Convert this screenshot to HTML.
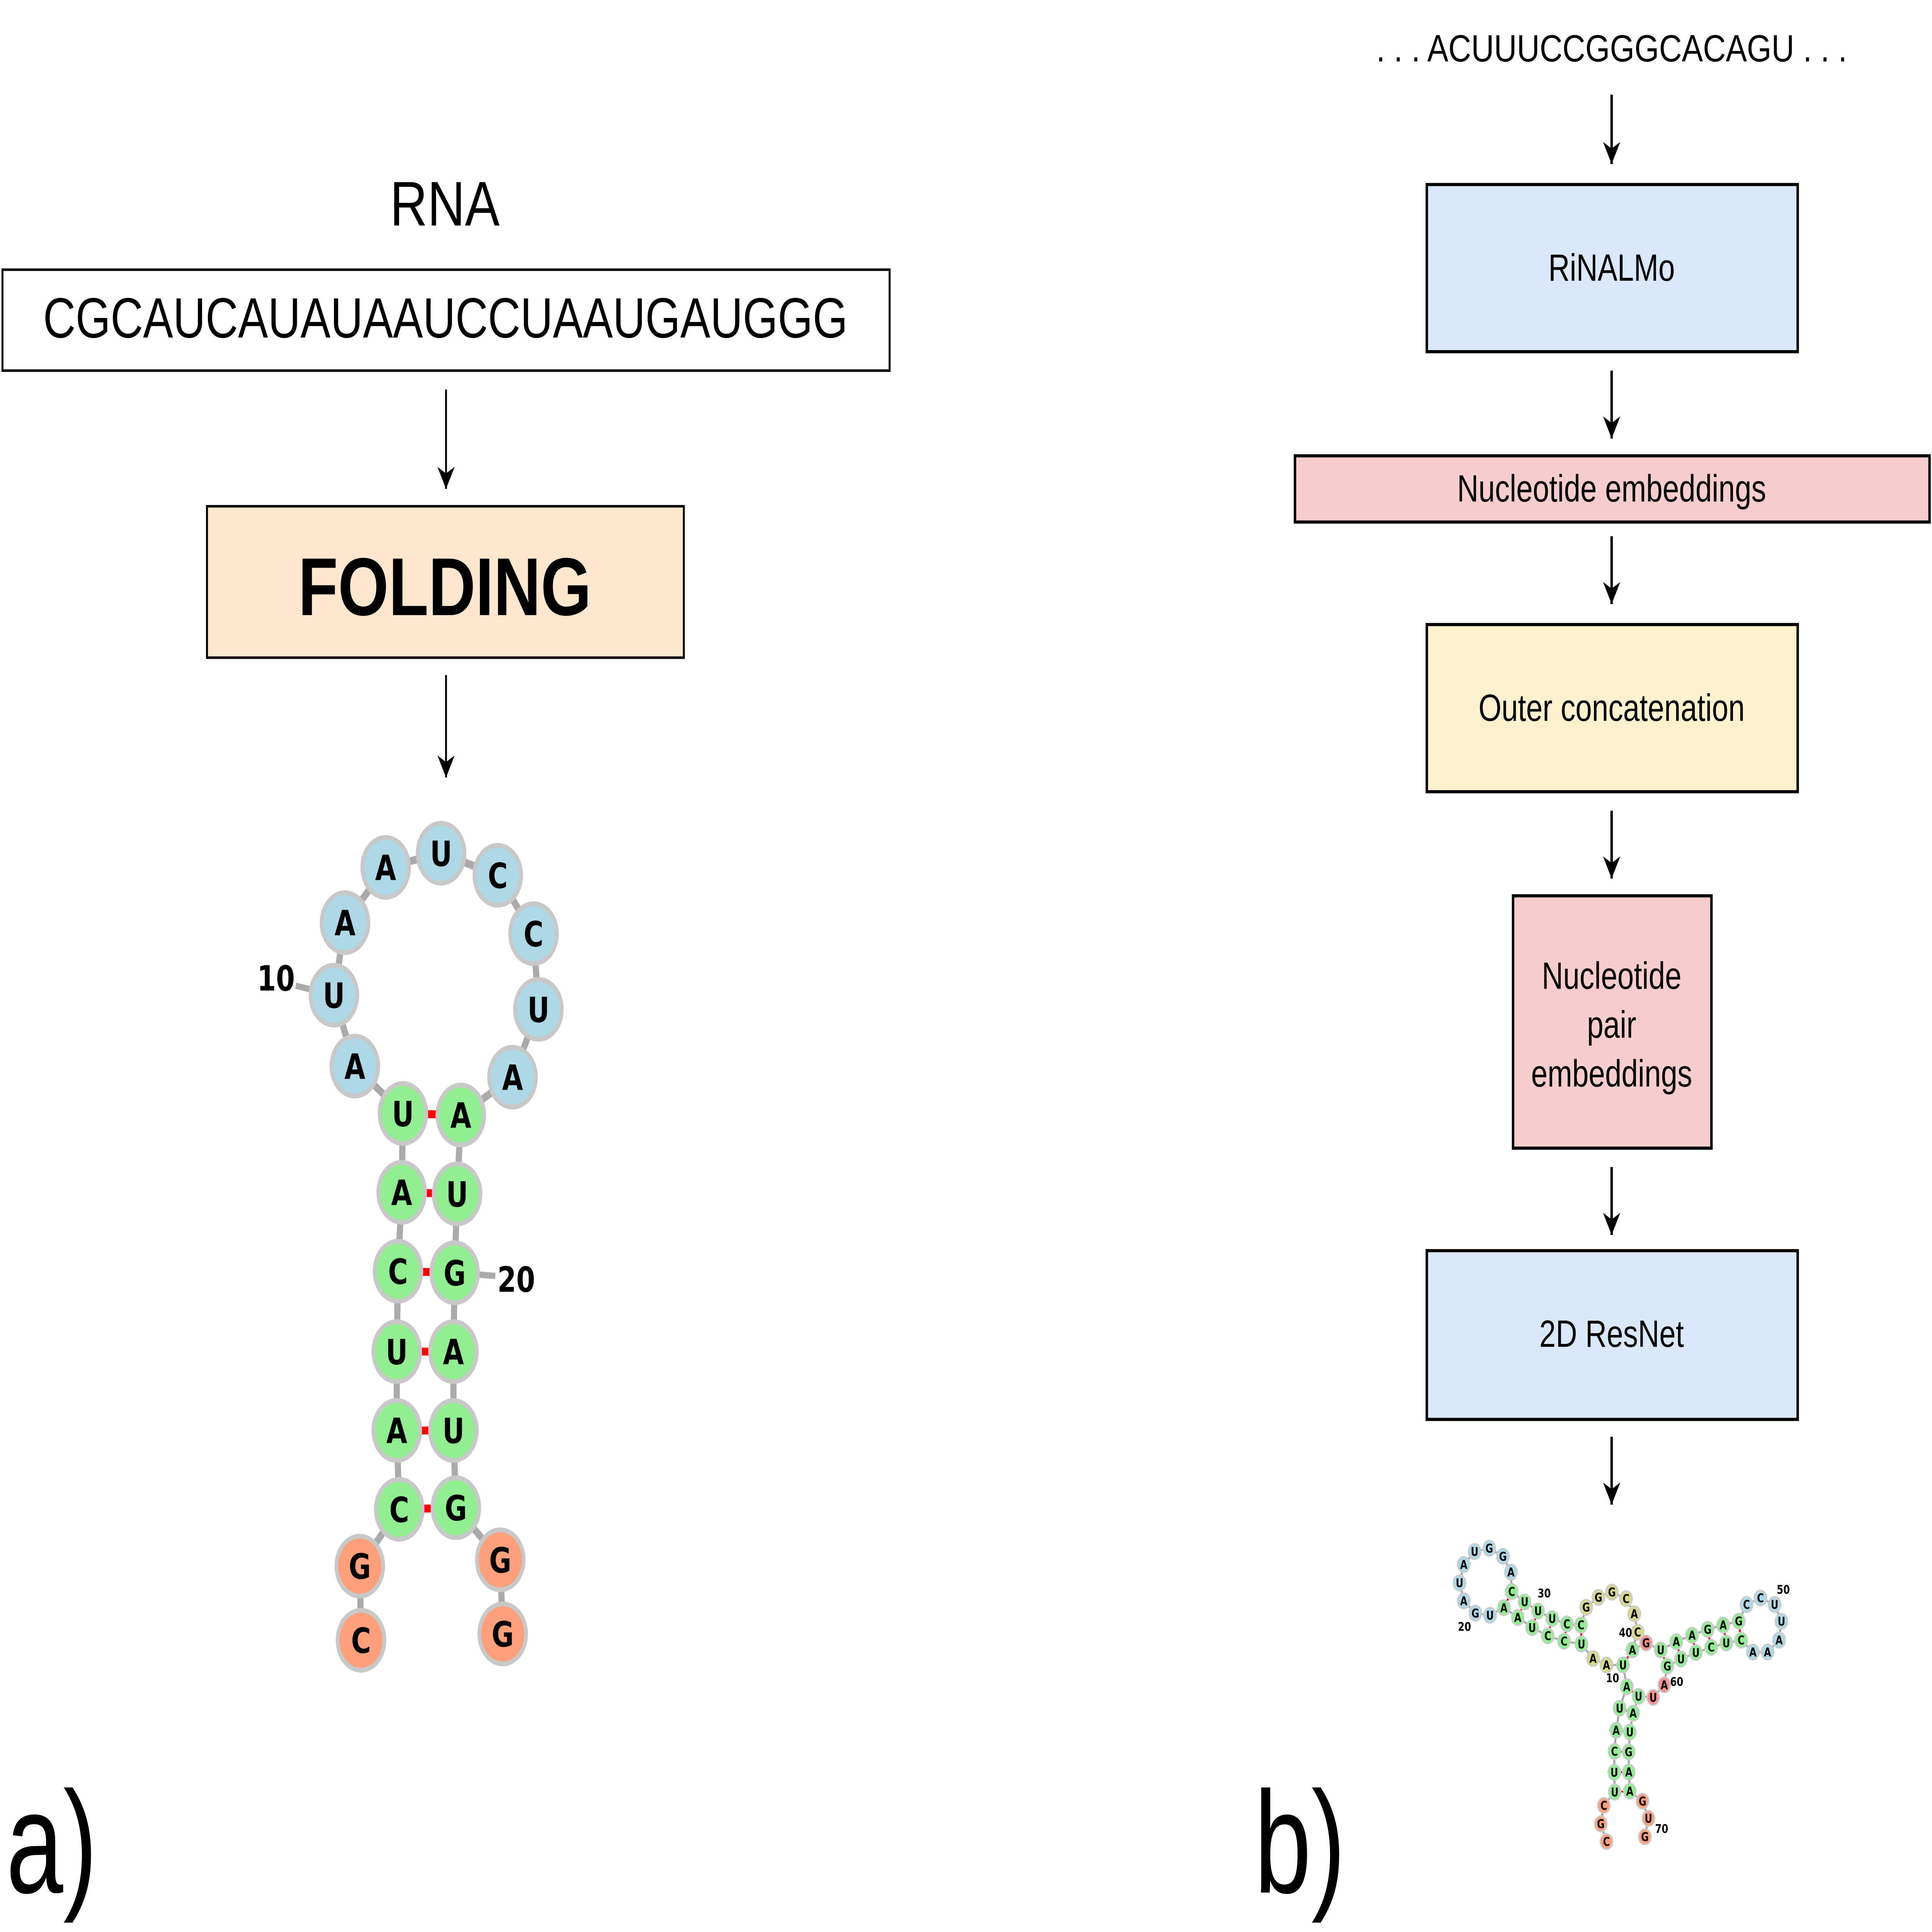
<!DOCTYPE html>
<html><head><meta charset="utf-8"><style>
html,body{margin:0;padding:0;background:#fff;width:100vw;height:100vh;overflow:hidden}
#wrap{position:fixed;left:0;top:0;width:100vw;height:100vh;overflow:hidden}
#wrap svg{display:block;width:100vw;height:100vh}
</style></head>
<body>
<div id="wrap">
<svg xmlns="http://www.w3.org/2000/svg" width="100%" height="100%" viewBox="0 0 1568 1225" preserveAspectRatio="none">
<defs>
<marker id="ah" viewBox="0 0 10 10" refX="10" refY="5" markerWidth="14" markerHeight="14" markerUnits="userSpaceOnUse" orient="auto">
<path d="M0,0 L10,5 L0,10 L3,5 z" fill="#000"/>
</marker>
</defs>
<rect width="1568" height="1225" fill="#fff"/>
<g font-family="Liberation Sans, sans-serif" fill="#000">
<text x="361" y="143" font-size="40" text-anchor="middle" textLength="89" lengthAdjust="spacingAndGlyphs">RNA</text>
<rect x="2" y="171" width="720" height="64" fill="#fff" stroke="#000" stroke-width="1.6"/>
<text x="361.5" y="214" font-size="36" text-anchor="middle" textLength="653" lengthAdjust="spacingAndGlyphs">CGCAUCAUAUAAUCCUAAUGAUGGG</text>
<line x1="362" y1="247" x2="362" y2="310" stroke="#000" stroke-width="1.5" marker-end="url(#ah)"/>
<rect x="168" y="321" width="387" height="96" fill="#ffe6cc" stroke="#000" stroke-width="1.6"/>
<text x="361" y="390" font-size="52" font-weight="bold" text-anchor="middle" textLength="238" lengthAdjust="spacingAndGlyphs">FOLDING</text>
<line x1="362" y1="428" x2="362" y2="493" stroke="#000" stroke-width="1.5" marker-end="url(#ah)"/>
<text x="5" y="1200" font-size="92" textLength="74" lengthAdjust="spacingAndGlyphs">a)</text>
<text x="1018" y="1200" font-size="92" textLength="74" lengthAdjust="spacingAndGlyphs">b)</text>

<text x="1308" y="39" font-size="24" text-anchor="middle" textLength="382" lengthAdjust="spacingAndGlyphs">. . . ACUUUCCGGGCACAGU . . .</text>
<line x1="1308" y1="60" x2="1308" y2="104" stroke="#000" stroke-width="2" marker-end="url(#ah)"/>
<rect x="1158" y="117" width="301" height="106" fill="#dae8fc" stroke="#000" stroke-width="2"/>
<text x="1308" y="178" font-size="24" text-anchor="middle">RiNALMo</text>
<line x1="1308" y1="235" x2="1308" y2="278" stroke="#000" stroke-width="2" marker-end="url(#ah)"/>
<rect x="1051" y="289" width="515" height="42" fill="#f8cecc" stroke="#000" stroke-width="2"/>
<text x="1308" y="318" font-size="24" text-anchor="middle">Nucleotide embeddings</text>
<line x1="1308" y1="340" x2="1308" y2="383" stroke="#000" stroke-width="2" marker-end="url(#ah)"/>
<rect x="1158" y="396" width="301" height="106" fill="#fff2cc" stroke="#000" stroke-width="2"/>
<text x="1308" y="457" font-size="24" text-anchor="middle">Outer concatenation</text>
<line x1="1308" y1="514" x2="1308" y2="557" stroke="#000" stroke-width="2" marker-end="url(#ah)"/>
<rect x="1228" y="568" width="161" height="160" fill="#f8cecc" stroke="#000" stroke-width="2"/>
<text x="1308" y="627" font-size="24" text-anchor="middle">Nucleotide</text>
<text x="1308" y="658" font-size="24" text-anchor="middle">pair</text>
<text x="1308" y="689" font-size="24" text-anchor="middle">embeddings</text>
<line x1="1308" y1="740" x2="1308" y2="783" stroke="#000" stroke-width="2" marker-end="url(#ah)"/>
<rect x="1158" y="793" width="301" height="107" fill="#dae8fc" stroke="#000" stroke-width="2"/>
<text x="1308" y="854" font-size="24" text-anchor="middle">2D ResNet</text>
<line x1="1308" y1="911" x2="1308" y2="954" stroke="#000" stroke-width="2" marker-end="url(#ah)"/>
</g>

<g>
<polyline fill="none" stroke="#aaa" stroke-width="5" points="293,1040 292,993 324,957 322,907 322,857 323,806 326,756 327,706 288,676 271,631 280,585 313,550 358,541 404,555 433,592 437,640 416,683 374,707 371,757 369,807 368,857 368,907 370,956 406,989 408,1036"/>
<line x1="271" y1="631" x2="240" y2="625" stroke="#aaa" stroke-width="4"/>
<line x1="369" y1="807" x2="402" y2="809" stroke="#aaa" stroke-width="4"/>
<g stroke="#f00" stroke-width="5">
<line x1="327" y1="706" x2="374" y2="707"/><line x1="326" y1="756" x2="371" y2="757"/><line x1="323" y1="806" x2="369" y2="807"/>
<line x1="322" y1="857" x2="368" y2="857"/><line x1="322" y1="907" x2="368" y2="907"/><line x1="324" y1="957" x2="370" y2="956"/>
</g>
<g stroke="#c8c8c8" stroke-width="3">
<circle cx="293" cy="1040" r="19" fill="#ffa07a"/><circle cx="292" cy="993" r="19" fill="#ffa07a"/>
<circle cx="406" cy="989" r="19" fill="#ffa07a"/><circle cx="408" cy="1036" r="19" fill="#ffa07a"/>
<circle cx="324" cy="957" r="19" fill="#90ee90"/><circle cx="322" cy="907" r="19" fill="#90ee90"/><circle cx="322" cy="857" r="19" fill="#90ee90"/>
<circle cx="323" cy="806" r="19" fill="#90ee90"/><circle cx="326" cy="756" r="19" fill="#90ee90"/><circle cx="327" cy="706" r="19" fill="#90ee90"/>
<circle cx="374" cy="707" r="19" fill="#90ee90"/><circle cx="371" cy="757" r="19" fill="#90ee90"/><circle cx="369" cy="807" r="19" fill="#90ee90"/>
<circle cx="368" cy="857" r="19" fill="#90ee90"/><circle cx="368" cy="907" r="19" fill="#90ee90"/><circle cx="370" cy="956" r="19" fill="#90ee90"/>
<circle cx="288" cy="676" r="19" fill="#add8e6"/><circle cx="271" cy="631" r="19" fill="#add8e6"/><circle cx="280" cy="585" r="19" fill="#add8e6"/>
<circle cx="313" cy="550" r="19" fill="#add8e6"/><circle cx="358" cy="541" r="19" fill="#add8e6"/><circle cx="404" cy="555" r="19" fill="#add8e6"/>
<circle cx="433" cy="592" r="19" fill="#add8e6"/><circle cx="437" cy="640" r="19" fill="#add8e6"/><circle cx="416" cy="683" r="19" fill="#add8e6"/>
</g>
<g font-family="DejaVu Sans, sans-serif" font-weight="bold" font-size="22" text-anchor="middle" fill="#000">
<text x="293" y="1048">C</text><text x="292" y="1001">G</text><text x="406" y="997">G</text><text x="408" y="1044">G</text>
<text x="324" y="965">C</text><text x="322" y="915">A</text><text x="322" y="865">U</text><text x="323" y="814">C</text><text x="326" y="764">A</text><text x="327" y="714">U</text>
<text x="374" y="715">A</text><text x="371" y="765">U</text><text x="369" y="815">G</text><text x="368" y="865">A</text><text x="368" y="915">U</text><text x="370" y="964">G</text>
<text x="288" y="684">A</text><text x="271" y="639">U</text><text x="280" y="593">A</text><text x="313" y="558">A</text><text x="358" y="549">U</text>
<text x="404" y="563">C</text><text x="433" y="600">C</text><text x="437" y="648">U</text><text x="416" y="691">A</text>
<text x="224" y="628">10</text><text x="419" y="819">20</text>
</g>
</g>

<g transform="translate(1159.86,965.3) scale(0.1914,0.137)">
<polyline fill="none" stroke="#aaa" stroke-width="9" points="752,1477 728,1395 741,1310 787,1248 785,1157 786,1060 793,962 808,860 838,760 822,660 752,660 695,630 646,563 572,550 503,525 437,487 376,440 317,395 258,430 196,420 147,363 129,280 147,195 193,135 255,120 313,157 347,230 350,320 405,368 462,410 522,445 584,470 644,475 666,393 718,347 775,323 835,353 870,423 884,508 862,590 920,558 982,590 1048,552 1115,522 1181,495 1247,475 1313,457 1346,380 1405,350 1465,380 1494,458 1484,545 1435,600 1373,600 1323,545 1260,558 1196,578 1131,603 1068,632 1010,665 997,752 950,810 888,805 865,883 851,970 846,1062 847,1155 851,1244 905,1290 930,1370 915,1455"/>
<g stroke="#f00" stroke-width="8">
<line x1="787" y1="1248" x2="851" y2="1244"/><line x1="785" y1="1157" x2="847" y2="1155"/><line x1="786" y1="1060" x2="846" y2="1062"/>
<line x1="793" y1="962" x2="851" y2="970"/><line x1="808" y1="860" x2="865" y2="883"/><line x1="838" y1="760" x2="888" y2="805"/>
<line x1="822" y1="660" x2="862" y2="590"/><line x1="646" y1="563" x2="644" y2="475"/><line x1="572" y1="550" x2="584" y2="470"/>
<line x1="503" y1="525" x2="522" y2="445"/><line x1="437" y1="487" x2="462" y2="410"/><line x1="376" y1="440" x2="405" y2="368"/>
<line x1="317" y1="395" x2="350" y2="320"/><line x1="982" y1="590" x2="1010" y2="665"/><line x1="1048" y1="552" x2="1068" y2="632"/>
<line x1="1115" y1="522" x2="1131" y2="603"/><line x1="1181" y1="495" x2="1196" y2="578"/><line x1="1247" y1="475" x2="1260" y2="558"/>
<line x1="1313" y1="457" x2="1323" y2="545"/>
</g>
<g stroke="#ccc" stroke-width="6">
<ellipse cx="752" cy="1477" rx="26" ry="36" fill="#ffa07a"/><ellipse cx="728" cy="1395" rx="26" ry="36" fill="#ffa07a"/><ellipse cx="741" cy="1310" rx="26" ry="36" fill="#ffa07a"/>
<ellipse cx="787" cy="1248" rx="26" ry="36" fill="#90ee90"/><ellipse cx="785" cy="1157" rx="26" ry="36" fill="#90ee90"/><ellipse cx="786" cy="1060" rx="26" ry="36" fill="#90ee90"/>
<ellipse cx="793" cy="962" rx="26" ry="36" fill="#90ee90"/><ellipse cx="808" cy="860" rx="26" ry="36" fill="#90ee90"/><ellipse cx="838" cy="760" rx="26" ry="36" fill="#90ee90"/>
<ellipse cx="822" cy="660" rx="26" ry="36" fill="#90ee90"/><ellipse cx="752" cy="660" rx="26" ry="36" fill="#d8d88c"/><ellipse cx="695" cy="630" rx="26" ry="36" fill="#d8d88c"/>
<ellipse cx="646" cy="563" rx="26" ry="36" fill="#90ee90"/><ellipse cx="572" cy="550" rx="26" ry="36" fill="#90ee90"/><ellipse cx="503" cy="525" rx="26" ry="36" fill="#90ee90"/>
<ellipse cx="437" cy="487" rx="26" ry="36" fill="#90ee90"/><ellipse cx="376" cy="440" rx="26" ry="36" fill="#90ee90"/><ellipse cx="317" cy="395" rx="26" ry="36" fill="#90ee90"/>
<ellipse cx="258" cy="430" rx="26" ry="36" fill="#add8e6"/><ellipse cx="196" cy="420" rx="26" ry="36" fill="#add8e6"/><ellipse cx="147" cy="363" rx="26" ry="36" fill="#add8e6"/>
<ellipse cx="129" cy="280" rx="26" ry="36" fill="#add8e6"/><ellipse cx="147" cy="195" rx="26" ry="36" fill="#add8e6"/><ellipse cx="193" cy="135" rx="26" ry="36" fill="#add8e6"/>
<ellipse cx="255" cy="120" rx="26" ry="36" fill="#add8e6"/><ellipse cx="313" cy="157" rx="26" ry="36" fill="#add8e6"/><ellipse cx="347" cy="230" rx="26" ry="36" fill="#add8e6"/>
<ellipse cx="350" cy="320" rx="26" ry="36" fill="#90ee90"/><ellipse cx="405" cy="368" rx="26" ry="36" fill="#90ee90"/><ellipse cx="462" cy="410" rx="26" ry="36" fill="#90ee90"/>
<ellipse cx="522" cy="445" rx="26" ry="36" fill="#90ee90"/><ellipse cx="584" cy="470" rx="26" ry="36" fill="#90ee90"/><ellipse cx="644" cy="475" rx="26" ry="36" fill="#90ee90"/>
<ellipse cx="666" cy="393" rx="26" ry="36" fill="#d8d88c"/><ellipse cx="718" cy="347" rx="26" ry="36" fill="#d8d88c"/><ellipse cx="775" cy="323" rx="26" ry="36" fill="#d8d88c"/>
<ellipse cx="835" cy="353" rx="26" ry="36" fill="#d8d88c"/><ellipse cx="870" cy="423" rx="26" ry="36" fill="#d8d88c"/><ellipse cx="884" cy="508" rx="26" ry="36" fill="#d8d88c"/>
<ellipse cx="862" cy="590" rx="26" ry="36" fill="#90ee90"/><ellipse cx="920" cy="558" rx="26" ry="36" fill="#f4908e"/><ellipse cx="982" cy="590" rx="26" ry="36" fill="#90ee90"/>
<ellipse cx="1048" cy="552" rx="26" ry="36" fill="#90ee90"/><ellipse cx="1115" cy="522" rx="26" ry="36" fill="#90ee90"/><ellipse cx="1181" cy="495" rx="26" ry="36" fill="#90ee90"/>
<ellipse cx="1247" cy="475" rx="26" ry="36" fill="#90ee90"/><ellipse cx="1313" cy="457" rx="26" ry="36" fill="#90ee90"/><ellipse cx="1346" cy="380" rx="26" ry="36" fill="#add8e6"/>
<ellipse cx="1405" cy="350" rx="26" ry="36" fill="#add8e6"/><ellipse cx="1465" cy="380" rx="26" ry="36" fill="#add8e6"/><ellipse cx="1494" cy="458" rx="26" ry="36" fill="#add8e6"/>
<ellipse cx="1484" cy="545" rx="26" ry="36" fill="#add8e6"/><ellipse cx="1435" cy="600" rx="26" ry="36" fill="#add8e6"/><ellipse cx="1373" cy="600" rx="26" ry="36" fill="#add8e6"/>
<ellipse cx="1323" cy="545" rx="26" ry="36" fill="#90ee90"/><ellipse cx="1260" cy="558" rx="26" ry="36" fill="#90ee90"/><ellipse cx="1196" cy="578" rx="26" ry="36" fill="#90ee90"/>
<ellipse cx="1131" cy="603" rx="26" ry="36" fill="#90ee90"/><ellipse cx="1068" cy="632" rx="26" ry="36" fill="#90ee90"/><ellipse cx="1010" cy="665" rx="26" ry="36" fill="#90ee90"/>
<ellipse cx="997" cy="752" rx="26" ry="36" fill="#f4908e"/><ellipse cx="950" cy="810" rx="26" ry="36" fill="#f4908e"/><ellipse cx="888" cy="805" rx="26" ry="36" fill="#90ee90"/>
<ellipse cx="865" cy="883" rx="26" ry="36" fill="#90ee90"/><ellipse cx="851" cy="970" rx="26" ry="36" fill="#90ee90"/><ellipse cx="846" cy="1062" rx="26" ry="36" fill="#90ee90"/>
<ellipse cx="847" cy="1155" rx="26" ry="36" fill="#90ee90"/><ellipse cx="851" cy="1244" rx="26" ry="36" fill="#90ee90"/><ellipse cx="905" cy="1290" rx="26" ry="36" fill="#ffa07a"/>
<ellipse cx="930" cy="1370" rx="26" ry="36" fill="#ffa07a"/><ellipse cx="915" cy="1455" rx="26" ry="36" fill="#ffa07a"/>
</g>
<g font-family="DejaVu Sans, sans-serif" font-weight="bold" font-size="40" text-anchor="middle" fill="#000">
<text transform="translate(752 1477) scale(1 1.4)" y="14">C</text><text transform="translate(728 1395) scale(1 1.4)" y="14">G</text><text transform="translate(741 1310) scale(1 1.4)" y="14">C</text>
<text transform="translate(787 1248) scale(1 1.4)" y="14">U</text><text transform="translate(785 1157) scale(1 1.4)" y="14">U</text><text transform="translate(786 1060) scale(1 1.4)" y="14">C</text>
<text transform="translate(793 962) scale(1 1.4)" y="14">A</text><text transform="translate(808 860) scale(1 1.4)" y="14">U</text><text transform="translate(838 760) scale(1 1.4)" y="14">A</text>
<text transform="translate(822 660) scale(1 1.4)" y="14">U</text><text transform="translate(752 660) scale(1 1.4)" y="14">A</text><text transform="translate(695 630) scale(1 1.4)" y="14">A</text>
<text transform="translate(646 563) scale(1 1.4)" y="14">U</text><text transform="translate(572 550) scale(1 1.4)" y="14">C</text><text transform="translate(503 525) scale(1 1.4)" y="14">C</text>
<text transform="translate(437 487) scale(1 1.4)" y="14">U</text><text transform="translate(376 440) scale(1 1.4)" y="14">A</text><text transform="translate(317 395) scale(1 1.4)" y="14">A</text>
<text transform="translate(258 430) scale(1 1.4)" y="14">U</text><text transform="translate(196 420) scale(1 1.4)" y="14">G</text><text transform="translate(147 363) scale(1 1.4)" y="14">A</text>
<text transform="translate(129 280) scale(1 1.4)" y="14">U</text><text transform="translate(147 195) scale(1 1.4)" y="14">A</text><text transform="translate(193 135) scale(1 1.4)" y="14">U</text>
<text transform="translate(255 120) scale(1 1.4)" y="14">G</text><text transform="translate(313 157) scale(1 1.4)" y="14">G</text><text transform="translate(347 230) scale(1 1.4)" y="14">A</text>
<text transform="translate(350 320) scale(1 1.4)" y="14">C</text><text transform="translate(405 368) scale(1 1.4)" y="14">U</text><text transform="translate(462 410) scale(1 1.4)" y="14">U</text>
<text transform="translate(522 445) scale(1 1.4)" y="14">U</text><text transform="translate(584 470) scale(1 1.4)" y="14">C</text><text transform="translate(644 475) scale(1 1.4)" y="14">C</text>
<text transform="translate(666 393) scale(1 1.4)" y="14">G</text><text transform="translate(718 347) scale(1 1.4)" y="14">G</text><text transform="translate(775 323) scale(1 1.4)" y="14">G</text>
<text transform="translate(835 353) scale(1 1.4)" y="14">C</text><text transform="translate(870 423) scale(1 1.4)" y="14">A</text><text transform="translate(884 508) scale(1 1.4)" y="14">C</text>
<text transform="translate(862 590) scale(1 1.4)" y="14">A</text><text transform="translate(920 558) scale(1 1.4)" y="14">G</text><text transform="translate(982 590) scale(1 1.4)" y="14">U</text>
<text transform="translate(1048 552) scale(1 1.4)" y="14">A</text><text transform="translate(1115 522) scale(1 1.4)" y="14">A</text><text transform="translate(1181 495) scale(1 1.4)" y="14">G</text>
<text transform="translate(1247 475) scale(1 1.4)" y="14">A</text><text transform="translate(1313 457) scale(1 1.4)" y="14">G</text><text transform="translate(1346 380) scale(1 1.4)" y="14">C</text>
<text transform="translate(1405 350) scale(1 1.4)" y="14">C</text><text transform="translate(1465 380) scale(1 1.4)" y="14">U</text><text transform="translate(1494 458) scale(1 1.4)" y="14">U</text>
<text transform="translate(1484 545) scale(1 1.4)" y="14">A</text><text transform="translate(1435 600) scale(1 1.4)" y="14">A</text><text transform="translate(1373 600) scale(1 1.4)" y="14">A</text>
<text transform="translate(1323 545) scale(1 1.4)" y="14">C</text><text transform="translate(1260 558) scale(1 1.4)" y="14">U</text><text transform="translate(1196 578) scale(1 1.4)" y="14">C</text>
<text transform="translate(1131 603) scale(1 1.4)" y="14">U</text><text transform="translate(1068 632) scale(1 1.4)" y="14">U</text><text transform="translate(1010 665) scale(1 1.4)" y="14">G</text>
<text transform="translate(997 752) scale(1 1.4)" y="14">A</text><text transform="translate(950 810) scale(1 1.4)" y="14">U</text><text transform="translate(888 805) scale(1 1.4)" y="14">U</text>
<text transform="translate(865 883) scale(1 1.4)" y="14">A</text><text transform="translate(851 970) scale(1 1.4)" y="14">U</text><text transform="translate(846 1062) scale(1 1.4)" y="14">G</text>
<text transform="translate(847 1155) scale(1 1.4)" y="14">A</text><text transform="translate(851 1244) scale(1 1.4)" y="14">A</text><text transform="translate(905 1290) scale(1 1.4)" y="14">G</text>
<text transform="translate(930 1370) scale(1 1.4)" y="14">U</text><text transform="translate(915 1455) scale(1 1.4)" y="14">G</text>
<text transform="translate(778 720) scale(1 1.4)" y="14">10</text><text transform="translate(150 482) scale(1 1.4)" y="14">20</text>
<text transform="translate(488 327) scale(1 1.4)" y="14">30</text><text transform="translate(833 510) scale(1 1.4)" y="14">40</text>
<text transform="translate(1502 310) scale(1 1.4)" y="14">50</text><text transform="translate(1050 737) scale(1 1.4)" y="14">60</text>
<text transform="translate(986 1417) scale(1 1.4)" y="14">70</text>
</g>
</g>
</svg>
</div>
</body></html>
